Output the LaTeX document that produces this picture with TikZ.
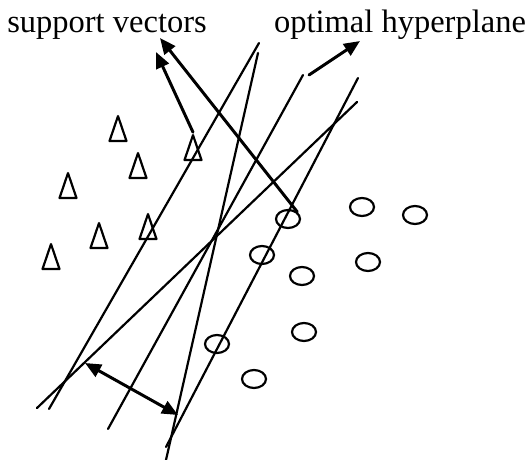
\documentclass[tikz,border=0pt]{standalone}
\usepackage{fontspec}
\setmainfont{Liberation Serif}
\usetikzlibrary{shapes.geometric,arrows.meta}
\begin{document}
\begin{tikzpicture}[x=0.02cm,y=-0.02cm,line join=round,line cap=round,>={Triangle[length=0.32cm,width=0.27cm]},line width=1.25pt]
	\tikzset{every node/.style={inner sep=0pt},
		tri/.style={draw,isosceles triangle,isosceles triangle stretches,shape border rotate=90,minimum height=0.5cm,minimum width=0.34cm},
		dot/.style={draw,ellipse,minimum width=0.48cm,minimum height=0.36cm},
		lbl/.style={font=\fontsize{18.5}{22}\selectfont,anchor=base},
		pointer/.style={->,line width=1.7pt}}
	\useasboundingbox (0,0) rectangle (528,460);
	\node[lbl] (sv) at (107,32) {support vectors};
	\node[lbl] (oh) at (400,32) {optimal hyperplane};
	% margin lines and hyperplanes
	\draw (259,43)--(49,409);
	\draw (357,102)--(37,408);
	\draw (258,53)--(166,460);
	\draw (303,75)--(108,429);
	\draw (358,78)--(166,447);
	% class one
	\foreach \x/\y/\n in {118/135/1, 138/172/2, 68/192/3, 193/154/4, 148/233/5, 99/242/6, 51/263/7}
	\node[tri] (t\n) at (\x,\y) {};
	% class two
	\foreach \x/\y/\n in {288/219/1, 362/207/2, 415/215/3, 262/255/4, 302/276/5, 368/262/6, 304/332/7, 217/344/8, 254/379/9}
	\node[dot] (c\n) at (\x,\y) {};
	\coordinate (svA) at (156,52);
	\coordinate (svB) at (160,38);
	\coordinate (ohA) at (309,75);
	\coordinate (ohB) at (360,41);
	\coordinate (mA) at (85,363);
	\coordinate (mB) at (178,415);
	\draw[pointer] (t4.north)--(svA);
	\draw[pointer] (c1.north east)--(svB);
	\draw[pointer] (ohA)--(ohB);
	\draw[<->,line width=1.7pt] (mA)--(mB);
\end{tikzpicture}
\end{document}
